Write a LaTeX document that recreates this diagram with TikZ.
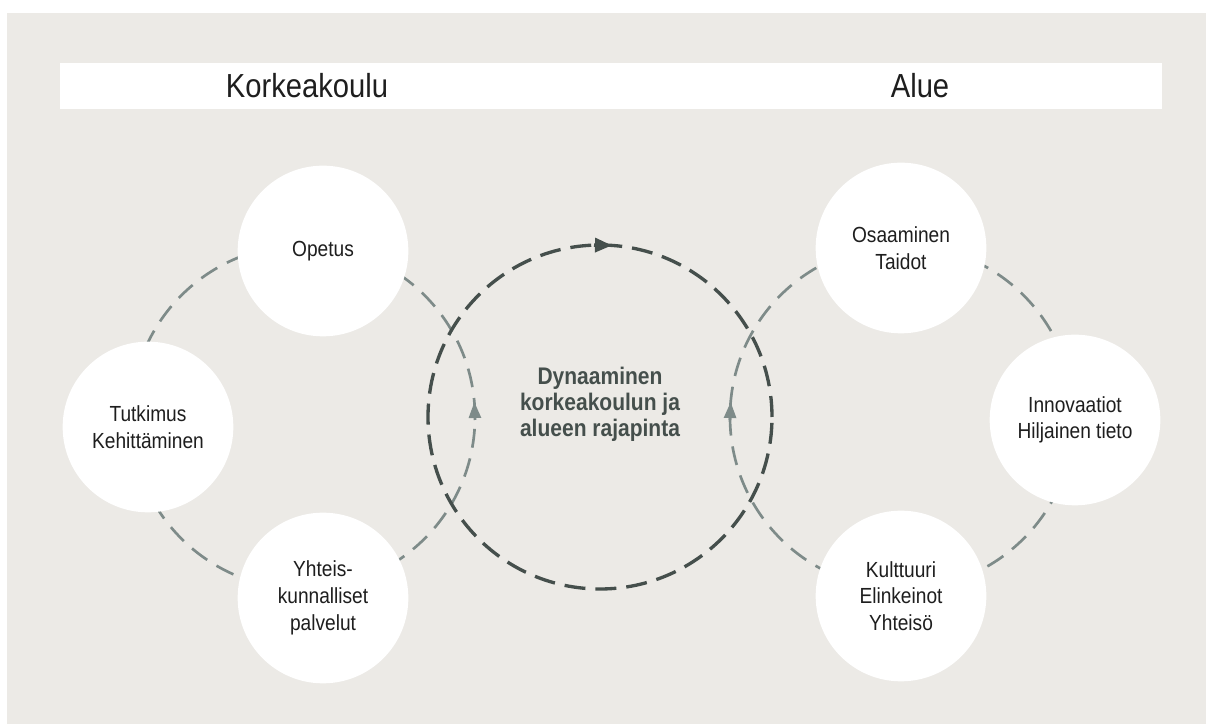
\documentclass[tikz,border=0pt]{standalone}
\usepackage{fontspec}
\setmainfont{Liberation Sans}[FakeStretch=0.875]
\usepackage{xcolor}
\usetikzlibrary{calc, arrows.meta}

\definecolor{paper}{HTML}{ECEAE6}
\definecolor{loopgrey}{HTML}{7E8B89}
\definecolor{loopdark}{HTML}{454F4C}
\definecolor{ink}{HTML}{1E1E1E}

\begin{document}
\begin{tikzpicture}[x=0.75pt, y=0.75pt,
		topic/.style = {circle, fill=white, minimum size=128pt, inner sep=0pt, align=center, text=ink, font=\fontsize{16.4}{20}\selectfont},
		side title/.style = {text=ink, font=\fontsize{25}{30}\selectfont},
		outer loop/.style = {draw=loopgrey, line width=2pt, dash pattern=on 14.25pt off 8.25pt},
		inner loop/.style = {draw=loopdark, line width=2.5pt, dash pattern=on 15.75pt off 7.5pt},
		outer tip/.style = {loopgrey, solid, line width=2pt, -{Triangle[length=12pt, width=9pt]}},
		inner tip/.style = {loopdark, solid, line width=2.5pt, -{Triangle[length=12.75pt, width=10.5pt]}}]
		\def\R{172};
		
		\useasboundingbox (0,0) rectangle (1206,724);
		\fill[paper] (7,0) rectangle (1206,711);
		\fill[white] (60,615) rectangle (1162,661);
		
		\node[side title] (korkeakoulu) at (307,638) {Korkeakoulu};
		\node[side title] (alue) at (920,638) {Alue};
		
		\coordinate (left loop centre) at (303,307);
		\coordinate (middle loop centre) at (600,307);
		\coordinate (right loop centre) at (902,307);
		
		\draw[outer loop] (left loop centre) circle [radius = \R];
		\draw[outer loop] (right loop centre) circle [radius = \R];
		\draw[inner loop] (middle loop centre) circle [radius = \R];
		
		\draw[outer tip] ($ (left loop centre) + (-1:\R) $) -- ($ (left loop centre) + (5:\R) $);
		\draw[outer tip] ($ (right loop centre) + (181:\R) $) -- ($ (right loop centre) + (175:\R) $);
		\draw[inner tip] ($ (middle loop centre) + (92:\R) $) -- ($ (middle loop centre) + (86:\R) $);
		
		\node[topic] (opetus) at (323,473) {Opetus};
		\node[topic] (tutkimus) at (148,297) {Tutkimus\\Kehittäminen};
		\node[topic] (yhteis) at (323,126) {Yhteis-\\kunnalliset\\palvelut};
		
		\node[topic] (osaaminen) at (901,476) {Osaaminen\\Taidot};
		\node[topic] (innovaatiot) at (1075,304) {Innovaatiot\\Hiljainen tieto};
		\node[topic] (kulttuuri) at (901,128) {Kulttuuri\\Elinkeinot\\Yhteisö};
		
		\node[align=center, text=loopdark, font=\fontsize{18}{19.5}\selectfont\bfseries] (rajapinta) at (600,320) {Dynaaminen\\korkeakoulun ja\\alueen rajapinta};
	\end{tikzpicture}
\end{document}
